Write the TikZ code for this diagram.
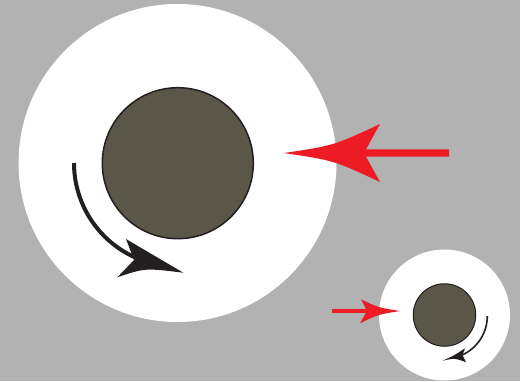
\documentclass[tikz,border=0pt]{standalone}
\definecolor{bggray}{HTML}{B2B2B2}
\definecolor{core}{HTML}{5B5748}
\definecolor{redarr}{HTML}{ED1C24}
\definecolor{blk}{HTML}{231F20}
\begin{document}
\begin{tikzpicture}[x=1pt,y=-1pt,
  halo/.style={circle,fill=white,inner sep=0pt},
  corebox/.style={circle,fill=core,draw=blk,inner sep=0pt},
  redhead/.style={fill=redarr,draw=none},
  blkhead/.style={fill=blk,draw=none}]
\fill[bggray] (0,0) rectangle (520,381);
\useasboundingbox (0,0) rectangle (520,381);
% big system
\node[halo,minimum size=318pt] (bigw) at (177.5,163) {};
\node[corebox,line width=1.5pt,minimum size=151pt] (bigc) at (177.8,163.2) {};
% small system
\node[halo,minimum size=131pt] (smw) at (444.5,315) {};
\node[corebox,line width=1pt,minimum size=62.5pt] (smc) at (444.5,315) {};
% big red arrow
\coordinate (rbtip) at (284,153);
\coordinate (rbtail) at (449,153);
\fill[redhead] (rbtip) .. controls (334,145.5) .. (380,124) -- (366,149.3)
  -- (449,149.3) -- (449,156.7) -- (366,156.7) -- (380,182)
  .. controls (334,160.5) .. (rbtip) -- cycle;
% small red arrow
\coordinate (rstip) at (400,311);
\coordinate (rstail) at (332,311);
\draw[redarr,line width=3.2pt] (rstail) -- (368,311);
\fill[redhead] (rstip) .. controls (378,307.5) .. (361,299.3) -- (367,311)
  -- (360,323.3) .. controls (378,314.5) .. (rstip) -- cycle;
% big black rotation arrow
\draw[blk,line width=4pt] (74,163) arc[start angle=180,end angle=113,radius=103.5];
\fill[blkhead] (183.3,272.7) .. controls (155,255) .. (126,239) -- (134,260)
  .. controls (126,268) .. (117.3,277.3) .. controls (145,268) .. (183.3,272.7) -- cycle;
% small black rotation arrow
\draw[blk,line width=1.6pt] (487.3,316) arc[start angle=0,end angle=70,radius=42.8];
\fill[blkhead] (442.7,360.7) .. controls (455,355) .. (465,348.3) -- (462.5,355)
  -- (466,362.3) .. controls (455,358) .. (442.7,360.7) -- cycle;
\end{tikzpicture}
\end{document}
